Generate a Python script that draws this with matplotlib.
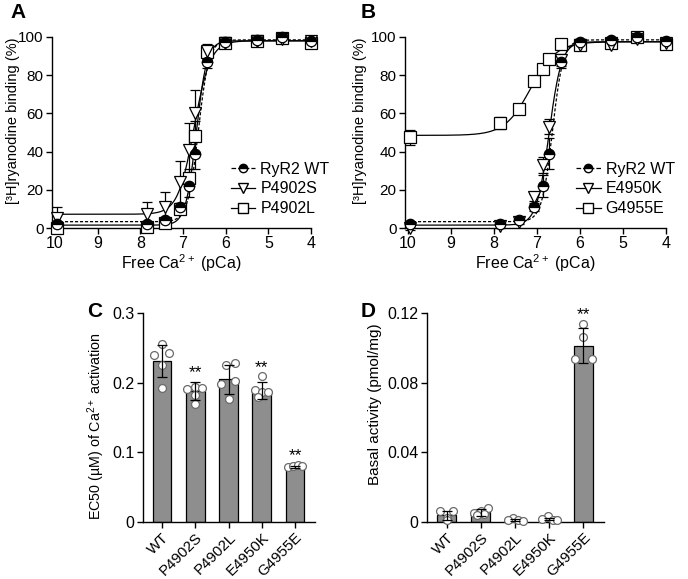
import numpy as np
import matplotlib
matplotlib.use('Agg')
import matplotlib.pyplot as plt
from matplotlib.lines import Line2D

plt.rcParams['font.family'] = ['Liberation Sans', 'DejaVu Sans']
plt.rcParams['mathtext.fontset'] = 'custom'
plt.rcParams['mathtext.rm'] = 'Liberation Sans'
plt.rcParams['mathtext.it'] = 'Liberation Sans'
plt.rcParams['axes.linewidth'] = 1.0

# ---- data: [3H]ryanodine binding vs pCa ----
pca = [9.95, 7.85, 7.43, 7.07, 6.87, 6.71, 6.44, 6.01, 5.27, 4.68, 4.0]

wt_val = [2, 2, 4, 11, 22, 39, 87, 97.5, 98.5, 100, 98]
wt_err = [1, 1, 1, 2, 6, 8, 3, 1, 1, 1, 1]

p4902s_val = [5, 7.5, 11, 24, 41, 60, 92.5, 97, 98, 99, 98]
p4902s_err = [6, 6, 8, 11, 14, 12, 4, 3, 1, 1, 1]

p4902l_val = [0, 0.5, 2.5, 10, 26, 48, 92, 97, 98, 99.5, 97]
p4902l_err = [1, 1, 1, 2, 5, 8, 3, 1, 1, 1, 1]

e4950k_val = [0, 1, 3, 16, 33, 53, 88, 96, 96, 99, 97]
e4950k_err = [1, 1, 1, 2, 4, 4, 3, 2, 2, 1, 1]

g4955e_val = [47.5, 55, 62.5, 77, 83, 88.5, 96.5, 96, 97, 100, 96.5]
g4955e_err = [4, 3, 1, 1, 1, 1, 1, 3, 1, 1, 2]

# Hill fit parameters: bottom, top, pEC50, Hill coefficient
fit_wt = (3.3, 98.5, 6.64, 3.5)
fit_p4902s = (7.2, 98.0, 6.74, 2.3)
fit_p4902l = (1.5, 98.0, 6.69, 3.5)
fit_e4950k = (1.5, 97.5, 6.72, 3.0)
fit_g4955e = (48.5, 97.5, 7.15, 1.45)

# ---- data: bar charts ----
groups = ['WT', 'P4902S', 'P4902L', 'E4950K', 'G4955E']

ec50_mean = [0.231, 0.188, 0.205, 0.189, 0.079]
ec50_sd = [0.023, 0.013, 0.021, 0.012, 0.002]
ec50_pts = [[0.256, 0.239, 0.243, 0.225, 0.193],
            [0.191, 0.194, 0.192, 0.182, 0.169],
            [0.198, 0.226, 0.228, 0.202, 0.176],
            [0.209, 0.190, 0.187, 0.187, 0.180],
            [0.079, 0.081, 0.082, 0.080]]
ec50_sig = ['', '**', '', '**', '**']

basal_mean = [0.0038, 0.0057, 0.0013, 0.0017, 0.1013]
basal_sd = [0.0028, 0.0020, 0.0005, 0.0008, 0.0100]
basal_pts = [[0.0062, 0.0062, 0.0022, 0.0010],
             [0.0080, 0.0066, 0.0052, 0.0047, 0.0040],
             [0.0022, 0.0012, 0.0010, 0.0008],
             [0.0033, 0.0015, 0.0012, 0.0010],
             [0.1139, 0.1062, 0.0934, 0.0934]]
basal_sig = ['', '', '', '', '**']

# horizontal jitter of the dots (in bar units)
ec50_jit = [[0, -0.25, 0.2, 0, 0], [-0.25, 0, 0.2, 0, 0], [-0.22, -0.07, 0.2, 0.2, 0],
            [0, -0.2, 0, 0.2, -0.1], [-0.2, -0.05, 0.1, 0.2]]
basal_jit = [[-0.2, 0.18, 0, 0], [0.2, 0, -0.2, 0.1, -0.1], [-0.05, -0.2, 0.1, 0.22],
             [-0.05, -0.2, 0.1, 0.22], [0, 0, -0.25, 0.25]]

fsize = 11.5
W, H = 688, 579
fig = plt.figure(figsize=(W / 100, H / 100), dpi=100)


def px_axes(x0, y0, x1, y1):
    # pixel box (left, top, right, bottom) -> figure axes
    return fig.add_axes([x0 / W, 1 - y1 / H, (x1 - x0) / W, (y1 - y0) / H])


def hill(x, p):
    b, t, pec, n = p
    return b + (t - b) / (1 + 10 ** (n * (x - pec)))


def curve_panel(ax, series, labx):
    xx = np.linspace(10, 4, 400)
    for vals, errs, fit, mk, ls in series:
        ax.plot(xx, hill(xx, fit), color='black', lw=0.9, ls=ls, zorder=2)
        ax.errorbar(pca, vals, yerr=errs, fmt='none', ecolor='black', elinewidth=0.9,
                    capsize=3.5, capthick=0.9, zorder=3, clip_on=False)
        if mk == 'half':
            ax.plot(pca, vals, 'o', ms=7.5, mec='black', mfc='black', mew=0.9,
                    fillstyle='top', markerfacecoloralt='white', zorder=4, clip_on=False)
        else:
            ax.plot(pca, vals, mk, ms=8, mec='black', mfc='white', mew=0.9,
                    zorder=4, clip_on=False)
    ax.set_xlim(10.07, 4)
    ax.set_ylim(0, 100)
    ax.set_xticks([10, 9, 8, 7, 6, 5, 4])
    ax.set_yticks([0, 20, 40, 60, 80, 100])
    for s in ['top', 'right']:
        ax.spines[s].set_visible(False)
    ax.tick_params(labelsize=fsize, length=4, width=1, direction='out', pad=2)
    ax.tick_params(axis='y', labelsize=11)
    ax.set_xlabel('Free Ca$^{2+}$ (pCa)', fontsize=fsize, labelpad=1)
    ax.set_ylabel('[³H]ryanodine binding (%)', fontsize=10.5)
    ax.yaxis.set_label_coords(labx, 0.56)


def legend_handles(labels, marks, styles):
    hs = []
    for lab, mk, ls in zip(labels, marks, styles):
        if mk == 'half':
            h = Line2D([], [], color='black', ls=ls, lw=0.9, marker='o', ms=6,
                       mfc='black', mec='black', fillstyle='top', markerfacecoloralt='white')
        else:
            h = Line2D([], [], color='black', ls=ls, lw=0.9, marker=mk, ms=6.5,
                       mfc='white', mec='black')
        hs.append(h)
    return hs


# ---- panel A ----
axA = px_axes(52, 37, 311, 228)
curve_panel(axA, [(p4902l_val, p4902l_err, fit_p4902l, 's', '-'),
                  (p4902s_val, p4902s_err, fit_p4902s, 'v', '-'),
                  (wt_val, wt_err, fit_wt, 'half', (0, (2.5, 1.5)))], -0.123)
labsA = ['RyR2 WT', 'P4902S', 'P4902L']
axA.legend(legend_handles(labsA, ['half', 'v', 's'], ['--', '-', '-']), labsA,
           loc='center left', bbox_to_anchor=(0.69, 0.205), frameon=False,
           fontsize=fsize, handlelength=1.55, handletextpad=0.3, labelspacing=0.3,
           borderaxespad=0, borderpad=0)
fig.text(10 / W, 1 - 3 / H, 'A', fontsize=15, fontweight='bold', va='top')

# ---- panel B ----
axB = px_axes(405, 37, 666, 228)
curve_panel(axB, [(g4955e_val, g4955e_err, fit_g4955e, 's', '-'),
                  (e4950k_val, e4950k_err, fit_e4950k, 'v', '-'),
                  (wt_val, wt_err, fit_wt, 'half', (0, (2.5, 1.5)))], -0.146)
labsB = ['RyR2 WT', 'E4950K', 'G4955E']
axB.legend(legend_handles(labsB, ['half', 'v', 's'], ['--', '-', '-']), labsB,
           loc='center left', bbox_to_anchor=(0.655, 0.205), frameon=False,
           fontsize=fsize, handlelength=1.55, handletextpad=0.3, labelspacing=0.3,
           borderaxespad=0, borderpad=0)
fig.text(361 / W, 1 - 3 / H, 'B', fontsize=15, fontweight='bold', va='top')


def bar_panel(ax, means, sds, pts, jit, sig, ymax, yticks, ylabel, ylsize, sigpad, labx, laby):
    x = np.arange(len(groups))
    ax.bar(x, means, width=0.56, color='#8e8e8e', edgecolor='black', linewidth=0.9, zorder=2)
    for i in range(len(groups)):
        xs = [x[i] + j for j in jit[i]]
        ax.scatter(xs, pts[i], s=32, facecolor='white', edgecolor='#6a6a6a',
                   linewidth=0.9, zorder=3, clip_on=False)
    ax.errorbar(x, means, yerr=sds, fmt='none', ecolor='black', elinewidth=0.9,
                capsize=3.5, capthick=0.9, zorder=4)
    for i, s in enumerate(sig):
        if s:
            top = max(max(pts[i]), means[i] + sds[i])
            ax.text(x[i], top + sigpad, s, ha='center', va='bottom', fontsize=12.5)
    ax.set_xlim(-0.57, 4.6)
    ax.set_ylim(0, ymax)
    ax.set_yticks(yticks)
    ax.set_yticklabels([('%g' % v) for v in yticks])
    ax.set_xticks(x)
    ax.set_xticklabels(groups, rotation=45, ha='right', rotation_mode='anchor', fontsize=10.8)
    for s in ['top', 'right']:
        ax.spines[s].set_visible(False)
    ax.tick_params(axis='y', labelsize=fsize)
    ax.tick_params(length=4, width=1, direction='out', pad=2)
    ax.set_ylabel(ylabel, fontsize=ylsize)
    ax.yaxis.set_label_coords(labx, laby)


# ---- panel C ----
axC = px_axes(143, 313, 315, 522)
bar_panel(axC, ec50_mean, ec50_sd, ec50_pts, ec50_jit, ec50_sig, 0.3,
          [0, 0.1, 0.2, 0.3], 'EC50 (µM) of Ca$^{2+}$ activation', 10.3, 0.002, -0.209, 0.46)
fig.text(87 / W, 1 - 302 / H, 'C', fontsize=15, fontweight='bold', va='top')

# ---- panel D ----
axD = px_axes(427, 313, 604, 522)
bar_panel(axD, basal_mean, basal_sd, basal_pts, basal_jit, basal_sig, 0.12,
          [0, 0.04, 0.08, 0.12], 'Basal activity (pmol/mg)', 11, 0.001, -0.254, 0.565)
fig.text(361 / W, 1 - 302 / H, 'D', fontsize=15, fontweight='bold', va='top')

plt.savefig('out.png', dpi=100)
